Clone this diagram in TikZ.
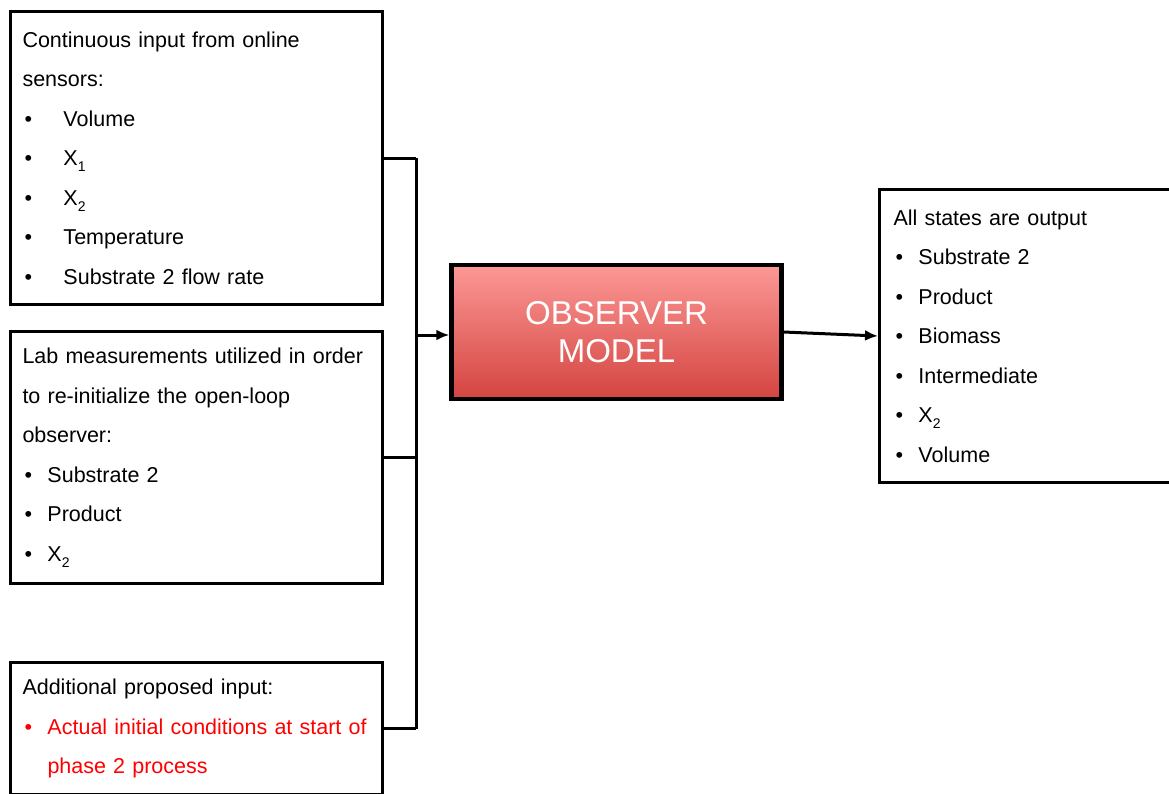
\documentclass[tikz,border=0pt]{standalone}
\usepackage{fontspec}
\setmainfont{Liberation Sans}
\usetikzlibrary{arrows.meta,shadows}
\definecolor{obstop}{RGB}{252,152,150}
\definecolor{obsbottom}{RGB}{212,68,64}
\newcommand{\itemA}[1]{\makebox[41pt][l]{\hspace{2pt}\textbullet}#1}
\newcommand{\itemB}[1]{\makebox[25pt][l]{\hspace{2pt}\textbullet}#1}
\newcommand{\subidx}[1]{\raisebox{-6pt}{\fontsize{14pt}{14pt}\selectfont#1}}

\begin{document}
\begin{tikzpicture}[x=1pt, y=-1pt,
    >={Latex[length=13pt,width=11pt]},   % Pfeilspitzen
    infobox/.style={draw, line width=3pt, anchor=north west, align=left,
      inner xsep=12pt, inner ysep=0pt, minimum width=#1, text width=#1-24pt,
      font=\fontsize{21.5pt}{39.5pt}\selectfont},
    link/.style={line width=3pt}]
    % Bildbereich
    \useasboundingbox (0,0) rectangle (1169,793);
    \clip (0,0) rectangle (1169,793);
    % Eingaben
    \node[infobox=372pt, minimum height=293pt] (sensors) at (9,10)
      {Continuous input from online\\ sensors:\\ \itemA{Volume}\\ \itemA{X\subidx{1}}\\
       \itemA{X\subidx{2}}\\ \itemA{Temperature}\\ \itemA{Substrate 2 flow rate}};
    \node[infobox=372pt, minimum height=252pt] (lab) at (9,330)
      {Lab measurements utilized in order\\ to re-initialize the open-loop\\ observer:\\
       \itemB{Substrate 2}\\ \itemB{Product}\\ \itemB{X\subidx{2}}};
    \node[infobox=372pt, minimum height=132pt] (proposed) at (9,661)
      {Additional proposed input:\\ \color{red}\itemB{Actual initial conditions at start of}\\
       \color{red}\hspace*{25pt}phase 2 process};
    % Beobachter
    \node[draw, line width=4.5pt, minimum width=330pt, minimum height=134pt,
      top color=obstop, bottom color=obsbottom, text=white, align=center,
      drop shadow={opacity=0.25, shadow xshift=2pt, shadow yshift=-2pt},
      font=\fontsize{33pt}{38pt}\selectfont] (observer) at (616.5,332) {OBSERVER\\ MODEL};
    % Ausgabe
    \node[infobox=300pt, minimum height=293pt, inner xsep=14pt, text width=272pt] (states) at (878,188)
      {All states are output\\ \itemB{Substrate 2}\\ \itemB{Product}\\ \itemB{Biomass}\\
       \itemB{Intermediate}\\ \itemB{X\subidx{2}}\\ \itemB{Volume}};
    % Verbindungen
    \coordinate (bus) at (416,335);
    \draw[link] (sensors.east) -- (sensors.east -| bus);
    \draw[link] (lab.east) -- (lab.east -| bus);
    \draw[link] (proposed.east) -- (proposed.east -| bus);
    \draw[link] (bus |- sensors.east) -- (bus |- proposed.east);
    \draw[link,->] (bus) -- (bus -| observer.west);
    \draw[link,->] (observer.east) -- (states.west);
\end{tikzpicture}
\end{document}
